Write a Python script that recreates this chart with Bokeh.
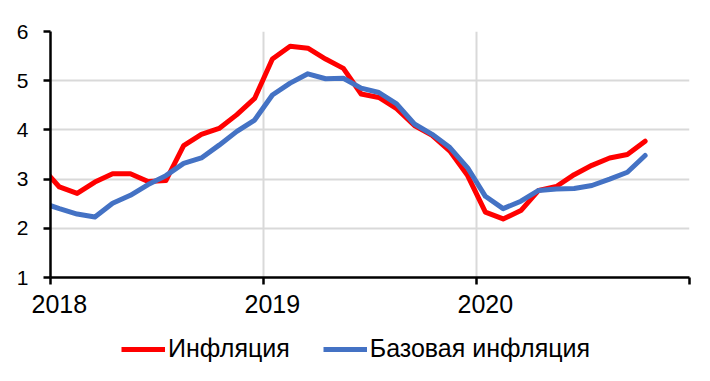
from bokeh.plotting import figure
from bokeh.layouts import column
from bokeh.models import Legend, LegendItem, FixedTicker, ColumnDataSource
from bokeh.embed import file_html
from bokeh.resources import INLINE

# monthly observations (Dec 2017 point lies just left of the visible axis range)
months = ["2017-12",
          "2018-01", "2018-02", "2018-03", "2018-04", "2018-05", "2018-06",
          "2018-07", "2018-08", "2018-09", "2018-10", "2018-11", "2018-12",
          "2019-01", "2019-02", "2019-03", "2019-04", "2019-05", "2019-06",
          "2019-07", "2019-08", "2019-09", "2019-10", "2019-11", "2019-12",
          "2020-01", "2020-02", "2020-03", "2020-04", "2020-05", "2020-06",
          "2020-07", "2020-08", "2020-09", "2020-10"]

inflation = [3.24,
             2.84, 2.71, 2.94, 3.11, 3.11, 2.95, 2.97, 3.68, 3.91, 4.03, 4.31, 4.64,
             5.44, 5.70, 5.66, 5.44, 5.25, 4.73, 4.66, 4.43, 4.09, 3.89, 3.57, 3.07,
             2.33, 2.19, 2.36, 2.77, 2.85, 3.09, 3.28, 3.43, 3.50, 3.77]

core_inflation = [2.52,
                  2.40, 2.29, 2.23, 2.51, 2.67, 2.89, 3.07, 3.32, 3.43, 3.69, 3.97, 4.20,
                  4.71, 4.95, 5.14, 5.04, 5.05, 4.85, 4.76, 4.53, 4.12, 3.91, 3.64, 3.23,
                  2.65, 2.40, 2.55, 2.77, 2.80, 2.81, 2.87, 3.00, 3.14, 3.48]

year_labels = ["2018", "2019", "2020"]
year_bounds = [2018, 2019, 2020, 2021]
y_ticks = [1, 2, 3, 4, 5, 6]
series_names = ["Инфляция", "Базовая инфляция"]

FONT = "Liberation Sans"

# month positions: months since Jan 2018, plotted at mid-month
xs = [(int(m[:4]) - 2018) * 12 + (int(m[5:]) - 1) + 0.5 for m in months]
bound_ticks = [(y - 2018) * 12 for y in year_bounds]          # year boundaries
label_ticks = [(int(s) - 2018) * 12 + 0.5 for s in year_labels]  # mid-January

src = ColumnDataSource(dict(x=xs, infl=inflation, core=core_inflation))

p = figure(width=710, height=327, x_range=(0, 36), y_range=(1, 6),
           output_backend="svg", toolbar_location=None,
           min_border_left=50, min_border_right=21, min_border_top=31,
           min_border_bottom=50)
p.outline_line_color = None
p.background_fill_color = "white"
p.border_fill_color = "white"

r1 = p.line("x", "infl", source=src, line_color="#ff0000", line_width=5,
            line_join="round", line_cap="round")
r2 = p.line("x", "core", source=src, line_color="#4472c4", line_width=5,
            line_join="round", line_cap="round")

p.xaxis.ticker = FixedTicker(ticks=label_ticks, minor_ticks=bound_ticks)
p.xaxis.major_label_overrides = {t: lab for t, lab in zip(label_ticks, year_labels)}
p.yaxis.ticker = FixedTicker(ticks=y_ticks)
p.xgrid.ticker = FixedTicker(ticks=bound_ticks)
p.ygrid.ticker = FixedTicker(ticks=y_ticks)

for ax in (p.xaxis, p.yaxis):
    ax.axis_line_color = "black"
    ax.axis_line_width = 2.5
    ax.major_tick_line_color = "black"
    ax.major_tick_line_width = 2.5
    ax.major_tick_in = 0
    ax.major_tick_out = 7
    ax.minor_tick_line_color = None
    ax.major_label_text_font = FONT
    ax.major_label_text_color = "black"
p.yaxis.major_label_text_font_size = "21px"
p.yaxis.major_label_standoff = 15
p.xaxis.major_label_text_font_size = "25px"
p.xaxis.major_label_standoff = 10
p.xaxis.major_tick_line_color = None
p.xaxis.minor_tick_line_color = "black"
p.xaxis.minor_tick_line_width = 2.5
p.xaxis.minor_tick_in = 0
p.xaxis.minor_tick_out = 7

for g in (p.xgrid, p.ygrid):
    g.grid_line_color = "#d9d9d9"
    g.grid_line_width = 2

# legend strip below the chart (its frame is aligned with the chart's frame)
pl = figure(width=710, height=54, x_range=(100, 101), y_range=(100, 101),
            output_backend="svg", toolbar_location=None,
            x_axis_type=None, y_axis_type=None, min_border=0)
pl.outline_line_color = None
pl.grid.visible = False
l1 = pl.line("x", "infl", source=src, line_color="#ff0000", line_width=5)
l2 = pl.line("x", "core", source=src, line_color="#4472c4", line_width=5)

legend = Legend(items=[LegendItem(label=series_names[0], renderers=[l1]),
                       LegendItem(label=series_names[1], renderers=[l2])],
                orientation="horizontal", location=(71, 18),
                label_text_font=FONT, label_text_font_size="25px",
                label_text_color="black",
                glyph_width=44, glyph_height=20, label_standoff=3, spacing=33,
                padding=0, margin=0,
                border_line_color=None, background_fill_alpha=0)
pl.add_layout(legend, "center")

layout = column(p, pl, spacing=0)
open("out.html", "w").write(file_html(layout, INLINE))
